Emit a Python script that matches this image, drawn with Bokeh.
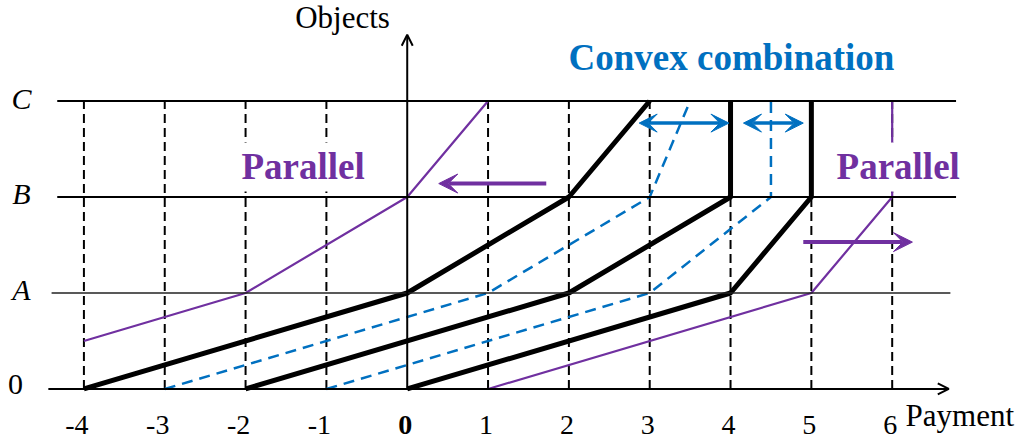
from bokeh.plotting import figure
from bokeh.models import Range1d, Arrow, OpenHead, VeeHead
from bokeh.core.properties import value
from bokeh.embed import file_html
from bokeh.resources import INLINE

# ---------------- data ----------------
x_ticks = [-4, -3, -2, -1, 0, 1, 2, 3, 4, 5, 6]
x_tick_labels = ["-4", "-3", "-2", "-1", "0", "1", "2", "3", "4", "5", "6"]
levels = [0, 1, 2, 3]
level_labels = ["0", "A", "B", "C"]

# black payment schedules (x = payment at levels 0, A, B, C)
black1_x = [-4, 0, 2, 3]
black2_x = [-2, 2, 4, 4]
black3_x = [0, 4, 5, 5]
black_y = [0, 1, 2, 3]

# blue dashed convex combinations
blue1_x = [-3, 1, 3, 3.5]
blue2_x = [-1, 3, 4.5, 4.5]
blue_y = [0, 1, 2, 3]

# purple parallel shifts
purple1_x = [-4, -2, 0, 1]
purple1_y = [0.5, 1, 2, 3]
purple2_x = [1, 5, 6, 6]
purple2_y = [0, 1, 2, 3]

BLACK = "#000000"
BLUE = "#0070C0"
PURPLE = "#7030A0"
SERIF = value("Liberation Serif")

p = figure(width=1027, height=443,
           x_range=Range1d(-5.032, 7.674), y_range=Range1d(-0.568, 4.047),
           x_axis_type=None, y_axis_type=None,
           output_backend="svg", toolbar_location=None, min_border=0)
p.grid.visible = False
p.outline_line_color = None
p.background_fill_color = "white"
p.border_fill_color = "white"

# dashed verticals
vx = [x for x in x_ticks if x != 0]
p.segment(x0=vx, y0=[levels[0]] * len(vx), x1=vx, y1=[levels[-1]] * len(vx),
          line_color=BLACK, line_width=2, line_dash="9 5")

# axes with arrows
p.add_layout(Arrow(end=OpenHead(size=11, line_width=2, line_color=BLACK),
                   x_start=-4.44, y_start=0, x_end=6.70, y_end=0,
                   line_width=2, line_color=BLACK))
p.add_layout(Arrow(end=OpenHead(size=11, line_width=2, line_color=BLACK),
                   x_start=0, y_start=0, x_end=0, y_end=3.69,
                   line_width=2, line_color=BLACK))

# blue dashed convex combinations
for bx in (blue1_x, blue2_x):
    p.line(bx, blue_y, line_color=BLUE, line_width=2.5, line_dash="11 7")

# purple parallel lines
p.line(purple1_x, purple1_y, line_color=PURPLE, line_width=2.2)
p.line(purple2_x, purple2_y, line_color=PURPLE, line_width=2.2)

# black thick schedules
for bx in (black1_x, black2_x, black3_x):
    p.line(bx, black_y, line_color=BLACK, line_width=5, line_join="round")

# tick labels
neg_x = [x for x in x_ticks if x < 0]
neg_lab = [l for x, l in zip(x_ticks, x_tick_labels) if x < 0]
pos_x = [x for x in x_ticks if x > 0]
pos_lab = [l for x, l in zip(x_ticks, x_tick_labels) if x > 0]
p.text(x=neg_x, y=[-0.375] * len(neg_x), text=neg_lab, text_font=SERIF, x_offset=-7,
       text_font_size="28px", text_align="center", text_baseline="middle", text_color=BLACK)
p.text(x=pos_x, y=[-0.375] * len(pos_x), text=pos_lab, text_font=SERIF, x_offset=-2,
       text_font_size="28px", text_align="center", text_baseline="middle", text_color=BLACK)
p.text(x=[0], y=[-0.375], text=["0"], text_font=SERIF, text_font_style="bold", x_offset=-2,
       text_font_size="28px", text_align="center", text_baseline="middle", text_color=BLACK)

p.text(x=[-4.846], y=[levels[0]], text=[level_labels[0]], text_font=SERIF, y_offset=-4,
       text_font_size="30px", text_align="center", text_baseline="middle", text_color=BLACK)
p.text(x=[-4.772] * 3, y=levels[1:], text=level_labels[1:], text_font=SERIF, text_font_style="italic",
       y_offset=-3, text_font_size="30px", text_align="center", text_baseline="middle", text_color=BLACK)

p.text(x=[-0.80], y=[3.87], text=["Objects"], text_font=SERIF, text_font_size="31px",
       text_align="center", text_baseline="middle", text_color=BLACK)
p.text(x=[6.165], y=[-0.276], text=["Payment"], text_font=SERIF, text_font_size="31px",
       text_align="left", text_baseline="middle", text_color=BLACK)

p.text(x=[1.996], y=[3.448], text=["Convex combination"], text_font=SERIF, text_font_style="bold",
       text_font_size="37px", text_align="left", text_baseline="middle", text_color=BLUE)
p.text(x=[-2.10, 5.262], y=[2.3125, 2.3125], text=["Parallel", "Parallel"], text_font=SERIF,
       text_font_style="bold", text_font_size="37px", text_align="left", text_baseline="middle",
       text_color=PURPLE, background_fill_color="white", padding=4)

# horizontal level lines (drawn after the labels so they stay continuous)
p.segment(x0=[-4.33, -4.33], y0=[levels[3], levels[2]], x1=[6.79, 6.79], y1=[levels[3], levels[2]],
          line_color=BLACK, line_width=2)
p.segment(x0=[-4.40], y0=[levels[1]], x1=[6.72], y1=[levels[1]],
          line_color="#222222", line_width=1.5)

# arrows
p.add_layout(Arrow(end=VeeHead(size=19, fill_color=PURPLE, line_color=PURPLE),
                   x_start=1.72, y_start=2.14, x_end=0.39, y_end=2.14,
                   line_width=4, line_color=PURPLE))
p.add_layout(Arrow(end=VeeHead(size=19, fill_color=PURPLE, line_color=PURPLE),
                   x_start=4.90, y_start=1.53, x_end=6.25, y_end=1.53,
                   line_width=4, line_color=PURPLE))
p.add_layout(Arrow(start=VeeHead(size=18, fill_color=BLUE, line_color=BLUE),
                   end=VeeHead(size=18, fill_color=BLUE, line_color=BLUE),
                   x_start=2.87, y_start=2.77, x_end=3.98, y_end=2.77,
                   line_width=3.5, line_color=BLUE))
p.add_layout(Arrow(start=VeeHead(size=18, fill_color=BLUE, line_color=BLUE),
                   end=VeeHead(size=18, fill_color=BLUE, line_color=BLUE),
                   x_start=4.16, y_start=2.77, x_end=4.90, y_end=2.77,
                   line_width=3.5, line_color=BLUE))

open("out.html", "w").write(file_html(p, INLINE))
